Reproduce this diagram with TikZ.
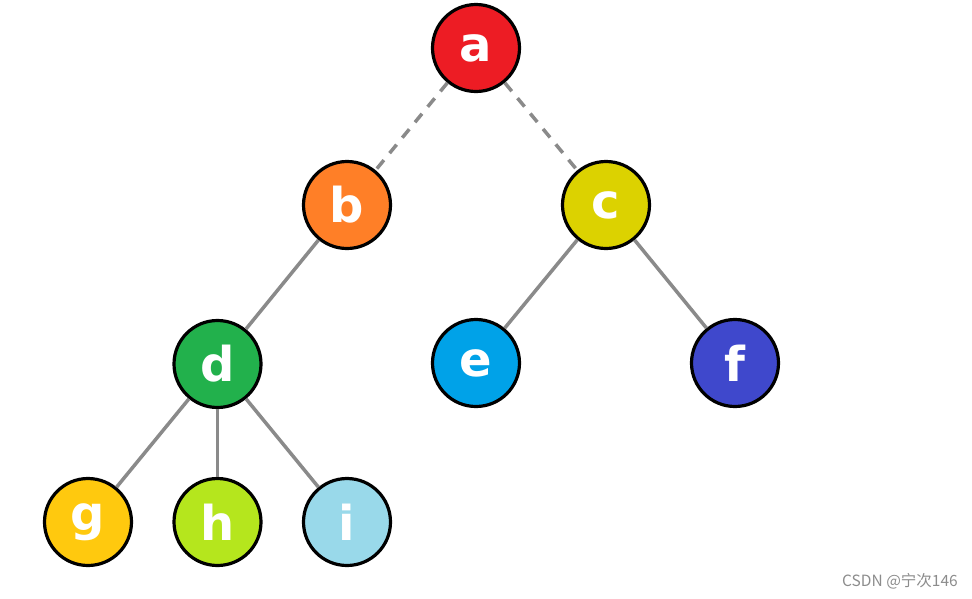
\documentclass[tikz,border=0pt]{standalone}
\usepackage{fontspec}
\setmainfont{DejaVu Sans}
\newfontfamily\cjkfont{Noto Sans CJK SC}
\definecolor{nodeA}{HTML}{ED1C24}
\definecolor{nodeB}{HTML}{FF7F27}
\definecolor{nodeC}{HTML}{DCD200}
\definecolor{nodeD}{HTML}{22B14C}
\definecolor{nodeE}{HTML}{00A2E8}
\definecolor{nodeF}{HTML}{3F48CC}
\definecolor{nodeG}{HTML}{FFC90E}
\definecolor{nodeH}{HTML}{B5E61D}
\definecolor{nodeI}{HTML}{99D9EA}
\definecolor{edgegray}{HTML}{8A8A8A}
\begin{document}
\begin{tikzpicture}[x=1pt, y=-1pt,
    vertex/.style={circle, draw=black, line width=3.2pt, minimum size=87pt,
        inner sep=0pt, text=white, font=\fontsize{48}{48}\selectfont\bfseries},
    edge/.style={draw=edgegray, line width=3.5pt},
    dashededge/.style={edge, dash pattern=on 11pt off 9pt}]
    % Canvas
    \useasboundingbox (0, 0) rectangle (972, 598);

    % Tree nodes
    \node[vertex, fill=nodeA] (a) at (476, 48) {a};
    \node[vertex, fill=nodeB] (b) at (347, 205) {b};
    \node[vertex, fill=nodeC] (c) at (606, 205) {c};
    \node[vertex, fill=nodeD] (d) at (217.5, 364) {d};
    \node[vertex, fill=nodeE] (e) at (476, 363) {e};
    \node[vertex, fill=nodeF] (f) at (735, 363) {f};
    \node[vertex, fill=nodeG] (g) at (88, 522) {g};
    \node[vertex, fill=nodeH] (h) at (217.5, 522) {h};
    \node[vertex, fill=nodeI] (i) at (347, 522) {i};

    % Dashed links from the root
    \draw[dashededge] (a) -- (b);
    \draw[dashededge] (a) -- (c);

    % Solid links
    \draw[edge] (b) -- (d);
    \draw[edge] (c) -- (e);
    \draw[edge] (c) -- (f);
    \draw[edge] (d) -- (g);
    \draw[edge] (d) -- (h);
    \draw[edge] (d) -- (i);

    % Watermark
    \node[text=black!45, font=\cjkfont\fontsize{15.5}{15.5}\selectfont] (mark) at (900, 581) {CSDN @宁次146};
\end{tikzpicture}
\end{document}
